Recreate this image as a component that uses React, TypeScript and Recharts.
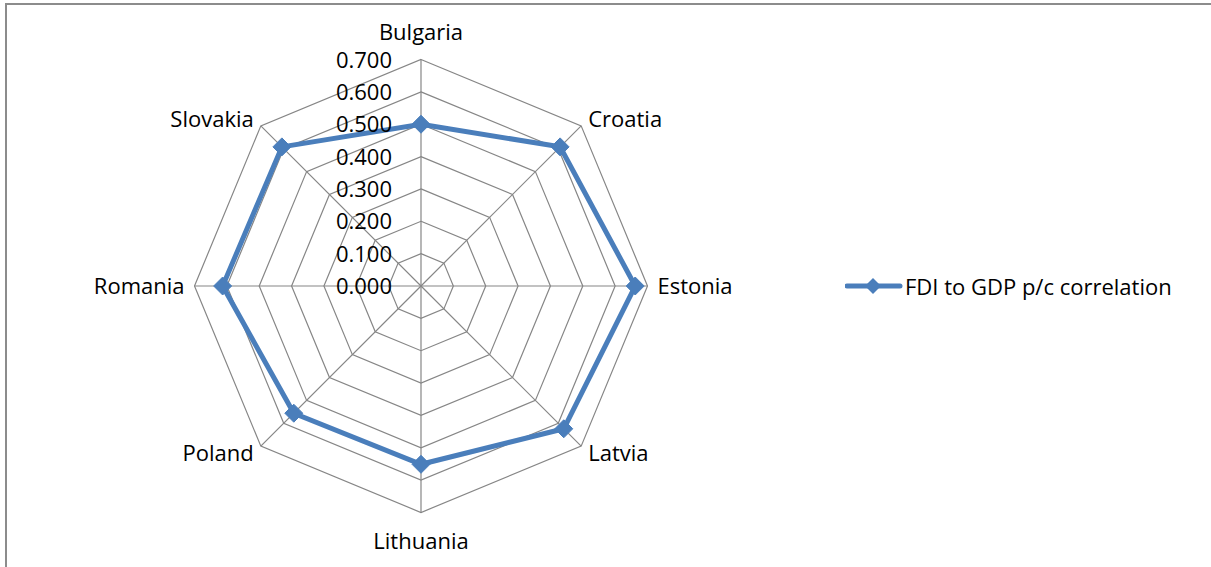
import React from "react";
import {
  RadarChart,
  Radar,
  PolarGrid,
  PolarAngleAxis,
  PolarRadiusAxis,
  Legend,
} from "recharts";

const countries = [
  "Bulgaria",
  "Croatia",
  "Estonia",
  "Latvia",
  "Lithuania",
  "Poland",
  "Romania",
  "Slovakia",
];
const correlation = [0.5, 0.608, 0.662, 0.624, 0.551, 0.556, 0.613, 0.608];
const radiusTicks = [0, 0.1, 0.2, 0.3, 0.4, 0.5, 0.6, 0.7];

const data = countries.map((country, i) => ({
  country,
  value: correlation[i],
}));

const CX = 421;
const CY = 286;
const R = 226.5; // radius of the 0.7 ring
// the radius axis ends up on [0, 1] here, so the chart radius is set so that 0.7 sits on R
const CHART_R = R / 0.7;
const BLUE = "#4A7EBB";
const GRID = "#868686";
const FONT = "'Open Sans', sans-serif";

// angle tick: draws the spoke up to the 0.7 ring and the country label
const AngleTick = (props: any) => {
  const { payload } = props;
  const dx = props.x - CX;
  const dy0 = props.y - CY;
  const len = Math.sqrt(dx * dx + dy0 * dy0) || 1;
  const ux = dx / len;
  const uy = dy0 / len;
  const x = CX + ux * (R + 10);
  const y = CY + uy * (R + 10);
  let anchor: "start" | "end" | "middle" = "middle";
  if (x > CX + 2) anchor = "start";
  else if (x < CX - 2) anchor = "end";
  let dy = 8;
  if (anchor === "middle") dy = y < CY ? -10 : 26;
  return (
    <g>
      <line
        x1={CX}
        y1={CY}
        x2={CX + ux * R}
        y2={CY + uy * R}
        stroke={GRID}
        strokeWidth={1.2}
      />
      <text
        x={x}
        y={y + dy}
        textAnchor={anchor}
        fontSize={22}
        fontFamily={FONT}
        fill="#000"
      >
        {payload.value}
      </text>
    </g>
  );
};

const RadiusTick = (props: any) => {
  const { x, y, payload } = props;
  return (
    <text
      x={x - 29}
      y={y + 8}
      textAnchor="end"
      fontSize={22}
      fontFamily={FONT}
      fill="#000"
    >
      {Number(payload.value).toFixed(3)}
    </text>
  );
};

const DiamondDot = (props: any) => {
  const { cx, cy } = props;
  const s = 9;
  return (
    <polygon
      key={`${cx}-${cy}`}
      points={`${cx},${cy - s} ${cx + s},${cy} ${cx},${cy + s} ${cx - s},${cy}`}
      fill={BLUE}
      stroke={BLUE}
    />
  );
};

const renderLegend = (props: any) => {
  const { payload } = props;
  return (
    <div style={{ fontFamily: FONT }}>
      {payload.map((entry: any) => (
        <div
          key={entry.value}
          style={{ display: "flex", alignItems: "center", height: 30 }}
        >
          <svg width={58} height={30}>
            <line x1={2} y1={15} x2={55} y2={15} stroke={BLUE} strokeWidth={5} strokeLinecap="round" />
            <polygon points="28,7 36,15 28,23 20,15" fill={BLUE} />
          </svg>
          <span style={{ fontSize: 22, color: "#000", marginLeft: 2 }}>
            {entry.value}
          </span>
        </div>
      ))}
    </div>
  );
};

export default function App() {
  return (
    <div
      style={{
        position: "absolute",
        left: 0,
        top: 0,
        width: 1211,
        height: 567,
        background: "#fff",
        overflow: "hidden",
      }}
    >
      <div
        style={{
          position: "absolute",
          left: 5,
          top: 3,
          width: 2,
          height: 564,
          background: "#8c8c8c",
        }}
      />
      <div
        style={{
          position: "absolute",
          left: 5,
          top: 3,
          width: 1206,
          height: 2,
          background: "#8c8c8c",
        }}
      />
      <RadarChart
        width={1211}
        height={567}
        data={data}
        cx={CX}
        cy={CY}
        outerRadius={CHART_R}
        margin={{ top: 0, right: 0, bottom: 0, left: 0 }}
        style={{ position: "absolute", left: 0, top: 0 }}
      >
        <PolarGrid
          gridType="polygon"
          stroke={GRID}
          strokeWidth={1.2}
          radialLines={false}
        />
        <PolarAngleAxis
          dataKey="country"
          tick={AngleTick}
          tickLine={false}
          axisLine={false}
          tickSize={10}
        />
        <PolarRadiusAxis
          angle={90}
          type="number"
          domain={[0, 0.7]}
          ticks={radiusTicks}
          tick={RadiusTick}
          axisLine={false}
          tickLine={false}
        />
        <Radar
          name="FDI to GDP p/c correlation"
          dataKey="value"
          stroke={BLUE}
          strokeWidth={5}
          fill="none"
          fillOpacity={0}
          dot={DiamondDot}
          isAnimationActive={false}
        />
        <Legend
          content={renderLegend}
          wrapperStyle={{ position: "absolute", left: 845, top: 271, width: 360 }}
        />
      </RadarChart>
    </div>
  );
}
